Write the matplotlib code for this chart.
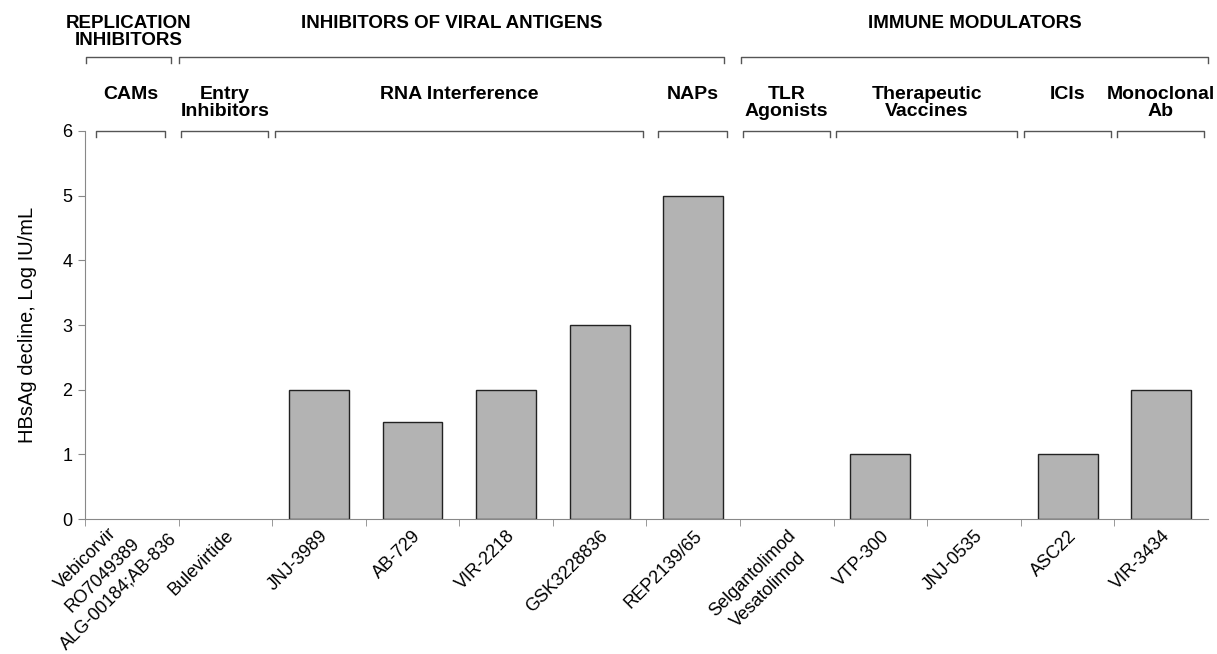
import matplotlib
matplotlib.use("Agg")
import matplotlib.pyplot as plt
import matplotlib.transforms as mtransforms
import numpy as np

plt.rcParams['font.family'] = ['Liberation Sans', 'DejaVu Sans']

drugs = ["Vebicorvir\nRO7049389\nALG-00184;AB-836", "Bulevirtide", "JNJ-3989", "AB-729",
         "VIR-2218", "GSK3228836", "REP2139/65", "Selgantolimod\nVesatolimod",
         "VTP-300", "JNJ-0535", "ASC22", "VIR-3434"]
decline = [0, 0, 2, 1.5, 2, 3, 5, 0, 1, 0, 1, 2]

# (label, first drug index, last drug index)
classes = [("CAMs", 0, 0), ("Entry\nInhibitors", 1, 1), ("RNA Interference", 2, 5),
           ("NAPs", 6, 6), ("TLR\nAgonists", 7, 7), ("Therapeutic\nVaccines", 8, 9),
           ("ICIs", 10, 10), ("Monoclonal\nAb", 11, 11)]
groups = [("REPLICATION\nINHIBITORS", 0, 0), ("INHIBITORS OF VIRAL ANTIGENS", 1, 6),
          ("IMMUNE MODULATORS", 7, 11)]

fig = plt.figure(figsize=(12.17, 6.54), dpi=100)
ax = fig.add_axes([0.0698, 0.2064, 0.9228, 0.5933])

x = np.arange(len(drugs))
# zero-height bars leave no outline in the original
edges = [1.0 if v > 0 else 0 for v in decline]
ax.bar(x, decline, width=0.64, color="#b3b3b3", edgecolor="#222222", linewidth=edges)

ax.set_xlim(-0.5, len(drugs) - 0.5)
ax.set_ylim(0, 6)
ax.set_yticks(range(7))
ax.tick_params(axis="y", labelsize=13, length=5, color="#888888", pad=4)
ax.set_xticks(x)
ax.set_xticklabels(drugs, rotation=45, ha="right", va="top", rotation_mode="anchor",
                   fontsize=13, multialignment="center", linespacing=1.45)
ax.tick_params(axis="x", length=0, pad=6)
ax.set_xticks(np.arange(-0.5, len(drugs) - 1, 1.0), minor=True)
ax.tick_params(axis="x", which="minor", length=5, color="#888888")
for s in ["top", "right"]:
    ax.spines[s].set_visible(False)
ax.spines["left"].set_color("#888888")
ax.spines["bottom"].set_color("#888888")
ax.set_ylabel("HBsAg decline, Log IU/mL", fontsize=14.5, labelpad=18)

# the three-line label sits higher in the original
lbl = ax.get_xticklabels()[0]
lbl.set_transform(lbl.get_transform() + mtransforms.ScaledTranslation(0.04, 0.3, fig.dpi_scale_trans))

def bracket(lo, hi, y, label, ty, size):
    h = 0.09
    ax.plot([lo, lo, hi, hi], [y - h, y, y, y - h], color="#555555", lw=1.0, clip_on=False)
    ax.text((lo + hi) / 2, ty, label, ha="center", va="top", fontsize=size,
            fontweight="bold", linespacing=1.0, clip_on=False)

for label, a, b in classes:
    lo, hi = a - 0.47, b + 0.46
    if label in ("CAMs", "NAPs"):
        lo, hi = a - 0.38, b + 0.36
    bracket(lo, hi, 6.0, label, 6.7, 14)

for label, a, b in groups:
    bracket(a - 0.49, b + 0.42 if a == 0 else b + 0.33 if b == 6 else b + 0.5,
            7.14, label, 7.8, 13.5)

fig.savefig("out.png", dpi=100)
